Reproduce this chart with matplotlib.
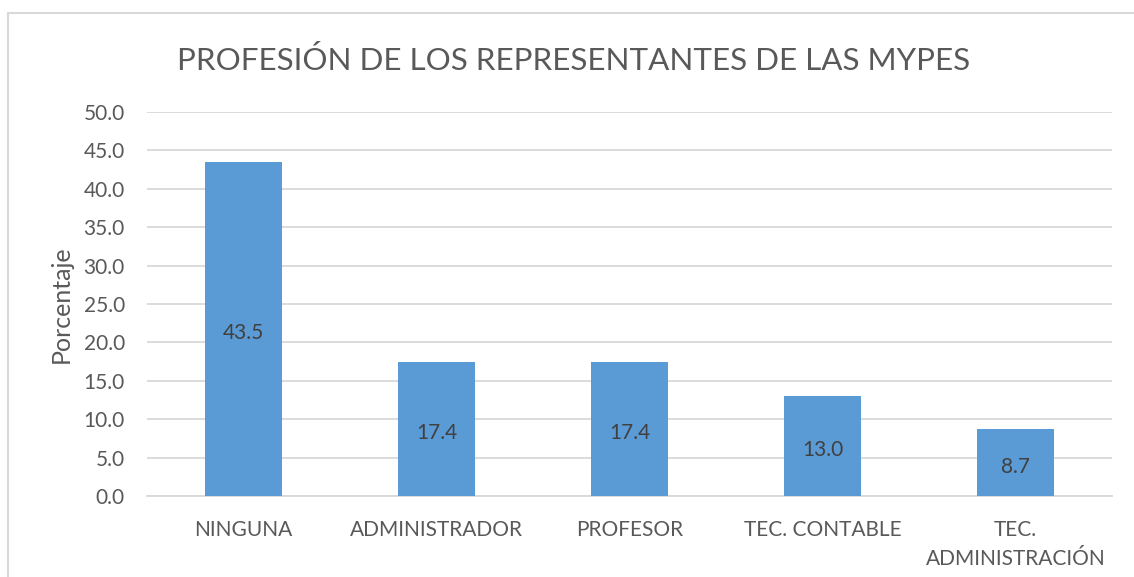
import matplotlib
matplotlib.use("Agg")
import matplotlib.pyplot as plt
from matplotlib.patches import Rectangle

categories = ["NINGUNA", "ADMINISTRADOR", "PROFESOR", "TEC. CONTABLE", "TEC.\nADMINISTRACIÓN"]
values = [43.5, 17.4, 17.4, 13.0, 8.7]
yticks = [0, 5, 10, 15, 20, 25, 30, 35, 40, 45, 50]

plt.rcParams['font.family'] = ['Lato', 'DejaVu Sans']
TXT = '#595959'

fig = plt.figure(figsize=(11.34, 5.77), dpi=100)
fig.patches.append(Rectangle((8/1134, -0.1), 1.2, 1 - 13/577 + 0.1, transform=fig.transFigure,
                             fill=False, edgecolor='#D9D9D9', linewidth=1.5))
ax = fig.add_axes([147/1134, 1 - 496/577, (1112 - 147)/1134, (496 - 112)/577])

x = range(len(categories))
bars = ax.bar(x, values, width=0.4, color='#5B9BD5', zorder=3)
for xi, v in zip(x, values):
    ax.annotate(f"{v:.1f}", (xi, v / 2), xytext=(0, -3), textcoords='offset points',
                ha='center', va='center', fontsize=15, color='#404040', zorder=4)

ax.set_ylim(0, 50)
ax.set_xlim(-0.5, len(categories) - 0.5)
ax.set_yticks(yticks)
ax.set_yticklabels([f"{t:.1f}" for t in yticks])
ax.set_xticks(list(x))
ax.set_xticklabels(categories, linespacing=1.55)
ax.tick_params(axis='y', length=0, pad=16, labelsize=15, labelcolor=TXT)
ax.tick_params(axis='x', length=0, pad=17.5, labelsize=15, labelcolor=TXT)
ax.grid(axis='y', color='#D9D9D9', linewidth=1.3, zorder=0)
for s in ['top', 'right', 'left']:
    ax.spines[s].set_visible(False)
ax.spines['bottom'].set_color('#D9D9D9')
ax.spines['bottom'].set_linewidth(1.3)
ax.set_ylabel("Porcentaje", fontsize=18, color=TXT, labelpad=8)

fig.text(574/1134, 1 - 60/577, "PROFESIÓN DE LOS REPRESENTANTES DE LAS MYPES",
         ha='center', va='center', fontsize=22.6, color=TXT)

fig.savefig("out.png", dpi=100, facecolor='white')
